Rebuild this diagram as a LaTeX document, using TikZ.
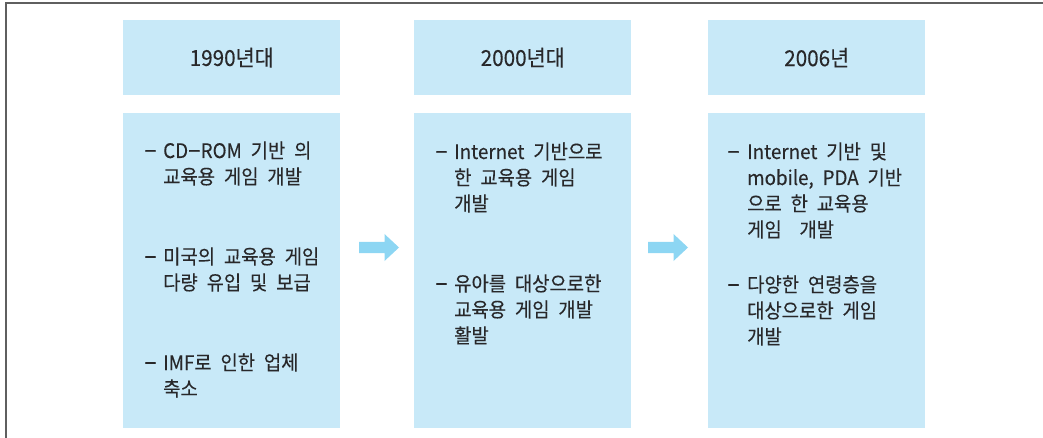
\documentclass[tikz,border=0pt]{standalone}
\usepackage{fontspec}
\setmainfont{Noto Sans CJK KR}[FakeStretch=0.94, WordSpace=2.1, FakeBold=0.2]
\definecolor{boxblue}{RGB}{200,233,248}
\definecolor{arrowblue}{RGB}{141,214,243}
\definecolor{txt}{RGB}{40,40,42}
\definecolor{framegray}{RGB}{95,95,95}
\newcommand\ml[1]{\begin{tabular}[t]{@{}l@{}}#1\end{tabular}}
\newcommand\ld{{\fontsize{25}{26}\selectfont –}}
\newcommand\flowarrow[1]{\fill[arrowblue] (#1) ++(0,-5.5) -- ++(25.5,0) -- ++(0,-8) -- ++(14.5,13.5) -- ++(-14.5,13.5) -- ++(0,-8) -- ++(-25.5,0) -- cycle;}
\begin{document}
\begin{tikzpicture}[x=1pt,y=-1pt,
  box/.style={fill=boxblue, draw=none, inner sep=0, minimum width=217pt, anchor=north west},
  hdr/.style={box, minimum height=75pt, text=txt, font=\fontsize{22}{25}\selectfont},
  body/.style={box, minimum height=315pt},
  itm/.style={anchor=base west, inner sep=0, text=txt, font=\fontsize{20}{26}\selectfont},
  dsh/.style={anchor=base west, inner sep=0, text=txt, font=\fontsize{25}{26}\selectfont}
]
\useasboundingbox (0,0) rectangle (1043,438);
% frame
\coordinate (fbl) at (6,438);
\coordinate (ftl) at (6,3);
\coordinate (ftr) at (1043,3);
\draw[framegray, line width=1.6pt] (fbl) -- (ftl) -- (ftr);
% headers
\node[hdr] (h1) at (123,20) {1990년대};
\node[hdr] (h2) at (414,20) {2000년대};
\node[hdr] (h3) at (708,20) {2006년};
% bodies
\node[body] (b1) at (123,113) {};
\node[body] (b2) at (414,113) {};
\node[body] (b3) at (708,113) {};
% arrows
\coordinate (a1) at (359,247.5);
\coordinate (a2) at (648,247.5);
\flowarrow{a1}
\flowarrow{a2}
% box 1 items
\node[dsh] (d11) at (144,158) {–};
\node[itm] (t11) at (163,158) {\ml{CD\ld ROM 기반 의\\교육용 게임 개발}};
\node[dsh] (d12) at (144,264) {–};
\node[itm] (t12) at (163,264) {\ml{미국의 교육용 게임\\다량 유입 및 보급}};
\node[dsh] (d13) at (144,370) {–};
\node[itm] (t13) at (163,370) {\ml{IMF로 인한 업체\\축소}};
% box 2 items
\node[dsh] (d21) at (435,159) {–};
\node[itm] (t21) at (454,159) {\ml{Internet 기반으로\\한 교육용 게임\\개발}};
\node[dsh] (d22) at (435,291) {–};
\node[itm] (t22) at (454,291) {\ml{유아를 대상으로한\\교육용 게임 개발\\활발}};
% box 3 items
\node[dsh] (d31) at (727,159) {–};
\node[itm] (t31) at (747,159) {\ml{Internet 기반 및\\mobile, PDA 기반\\으로 한 교육용\\게임~ 개발}};
\node[dsh] (d32) at (727,292) {–};
\node[itm] (t32) at (747,292) {\ml{다양한 연령층을\\대상으로한 게임\\개발}};
\end{tikzpicture}
\end{document}
